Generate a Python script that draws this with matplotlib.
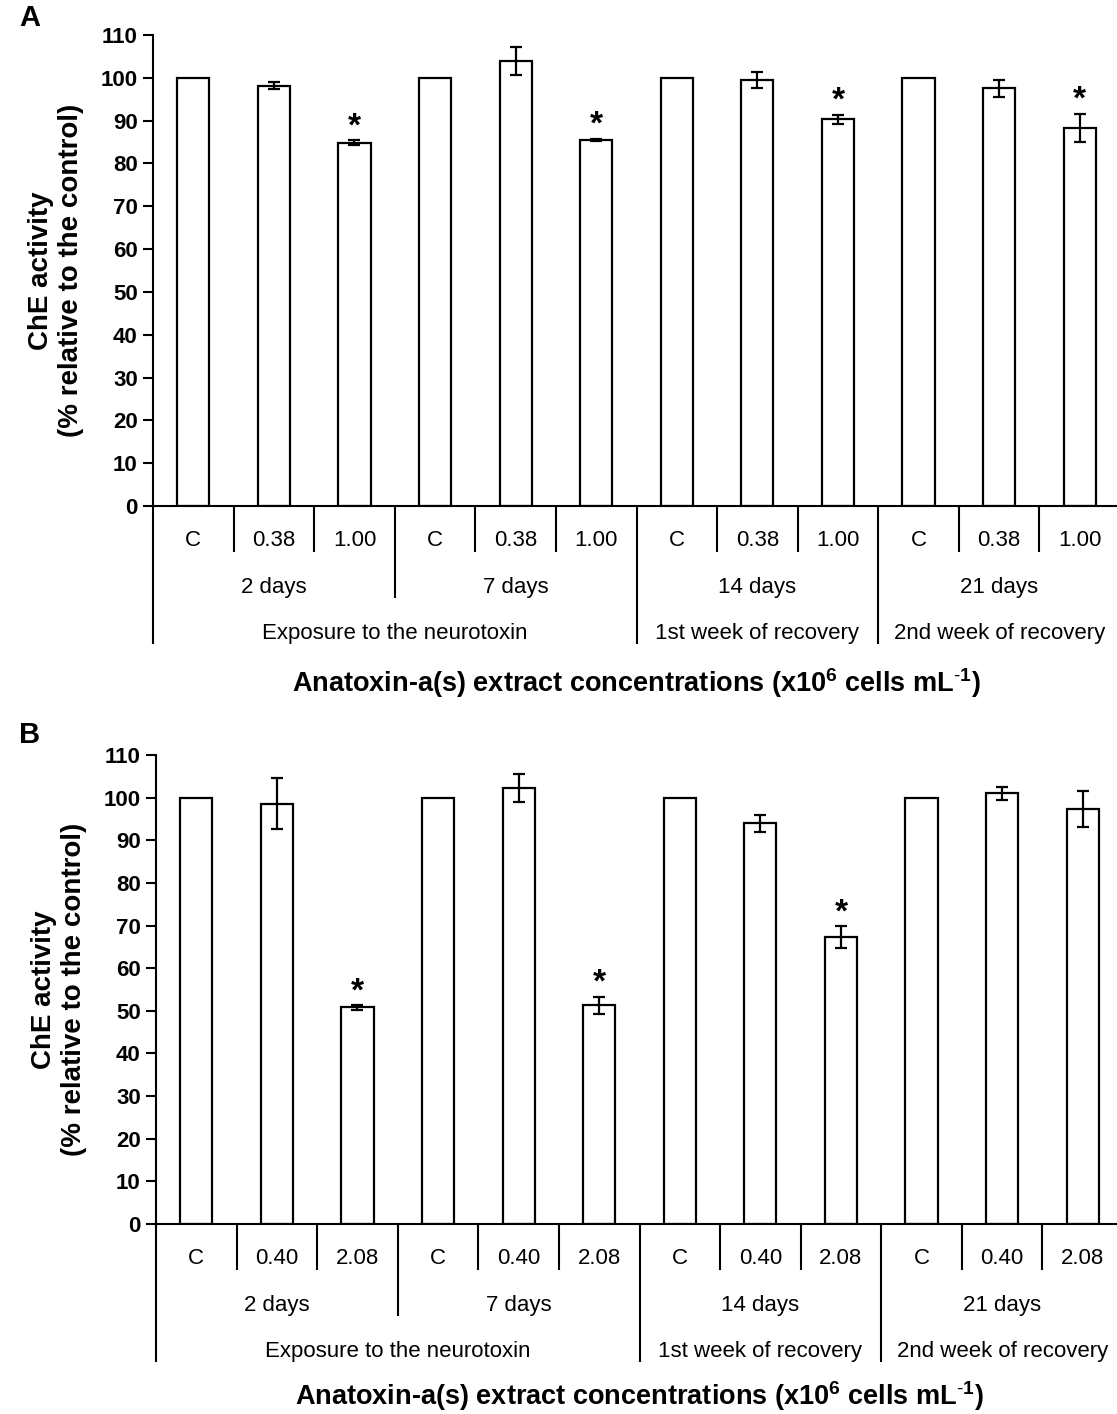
import matplotlib
matplotlib.use('Agg')
import matplotlib.pyplot as plt
import numpy as np

plt.rcParams['font.family'] = ['Liberation Sans', 'DejaVu Sans']
plt.rcParams['mathtext.fontset'] = 'custom'
plt.rcParams['mathtext.rm'] = 'Liberation Sans'
plt.rcParams['mathtext.bf'] = 'Liberation Sans:bold'

# data
days = ['2 days', '7 days', '14 days', '21 days']
phases = ['Exposure to the neurotoxin', '1st week of recovery', '2nd week of recovery']
phase_span = [2, 1, 1]  # number of day groups in each phase

dosesA = ['C', '0.38', '1.00']
valuesA = [100, 98.2, 84.8, 100, 104.0, 85.5, 100, 99.5, 90.3, 100, 97.6, 88.3]
errorsA = [0, 0.8, 0.6, 0, 3.3, 0.3, 0, 1.9, 1.0, 0, 2.0, 3.3]
starsA = [False, False, True, False, False, True, False, False, True, False, False, True]

dosesB = ['C', '0.40', '2.08']
valuesB = [100, 98.6, 50.8, 100, 102.2, 51.3, 100, 94.0, 67.3, 100, 101.0, 97.3]
errorsB = [0, 6.0, 0.5, 0, 3.3, 2.0, 0, 2.0, 2.5, 0, 1.5, 4.3]
starsB = [False, False, True, False, False, True, False, False, True, False, False, False]

xtitle = r'Anatoxin-a(s) extract concentrations (x10$^{\mathregular{6}}$ cells mL$^{\text{-}\mathregular{1}}$)'

W, H = 1117, 1414
fig = plt.figure(figsize=(W / 100, H / 100), dpi=100)


def add_axes_px(left, right, top, bottom):
    return fig.add_axes([left / W, 1 - bottom / H, (right - left) / W, (bottom - top) / H])


def draw_panel(ax, values, errors, stars, doses, axh, title_px):
    n = len(values)
    x = np.arange(n) + 0.5
    ax.bar(x, values, width=0.4, color='white', edgecolor='black', linewidth=1.6, zorder=2)
    err = np.array(errors)
    keep = err > 0
    ax.errorbar(x[keep], np.array(values)[keep], yerr=err[keep], fmt='none',
                ecolor='black', elinewidth=1.6, capsize=4, capthick=1.6, zorder=3)
    for xi, v, e, s in zip(x, values, errors, stars):
        if s:
            ax.text(xi, v + e + 1.2, '*', ha='center', va='baseline',
                    fontsize=24, fontweight='bold')

    ax.set_xlim(0, n)
    ax.set_ylim(0, 110)
    ax.set_yticks(np.arange(0, 111, 10))
    ax.tick_params(axis='y', direction='out', length=7, width=1.5, labelsize=16, pad=4)
    for lab in ax.get_yticklabels():
        lab.set_fontweight('bold')
    ax.set_xticks([])
    ax.spines['top'].set_visible(False)
    ax.spines['right'].set_visible(False)
    ax.spines['left'].set_linewidth(1.5)
    ax.spines['bottom'].set_linewidth(1.5)

    tr = ax.get_xaxis_transform()
    f = lambda px: -px / axh

    # category separators and labels
    per = len(doses)
    for k in range(n + 1):
        if k % per != 0:
            depth = 46
        elif k in (0, 6, 9, 12):
            depth = 138
        else:
            depth = 92
        ax.plot([k, k], [0, f(depth)], transform=tr, color='black', lw=1.5,
                clip_on=False, solid_capstyle='butt')
    for k in range(n):
        ax.text(k + 0.5, f(35), doses[k % per], transform=tr, ha='center', va='center',
                fontsize=16)
    for g, d in enumerate(days):
        ax.text(g * per + per / 2, f(81), d, transform=tr, ha='center', va='center',
                fontsize=16)
    start = 0
    for p, span in zip(phases, phase_span):
        ax.text((start + span / 2) * per, f(127), p, transform=tr, ha='center',
                va='center', fontsize=16)
        start += span
    ax.text(n / 2, f(title_px), xtitle, transform=tr, ha='center', va='center',
            fontsize=19.5, fontweight='bold')

    ax.set_ylabel('ChE activity\n(% relative to the control)', fontsize=20,
                  fontweight='bold', linespacing=1.2, labelpad=12)
    return ax


axA = add_axes_px(153, 1120, 35, 506)
draw_panel(axA, valuesA, errorsA, starsA, dosesA, 471, 177)
fig.text(30 / W, 1 - 18 / H, 'A', fontsize=21, fontweight='bold', ha='center', va='center')

axB = add_axes_px(156, 1123, 755, 1224)
draw_panel(axB, valuesB, errorsB, starsB, dosesB, 469, 172)
fig.text(30 / W, 1 - 735 / H, 'B', fontsize=21, fontweight='bold', ha='center', va='center')

fig.savefig('out.png', dpi=100, facecolor='white')
